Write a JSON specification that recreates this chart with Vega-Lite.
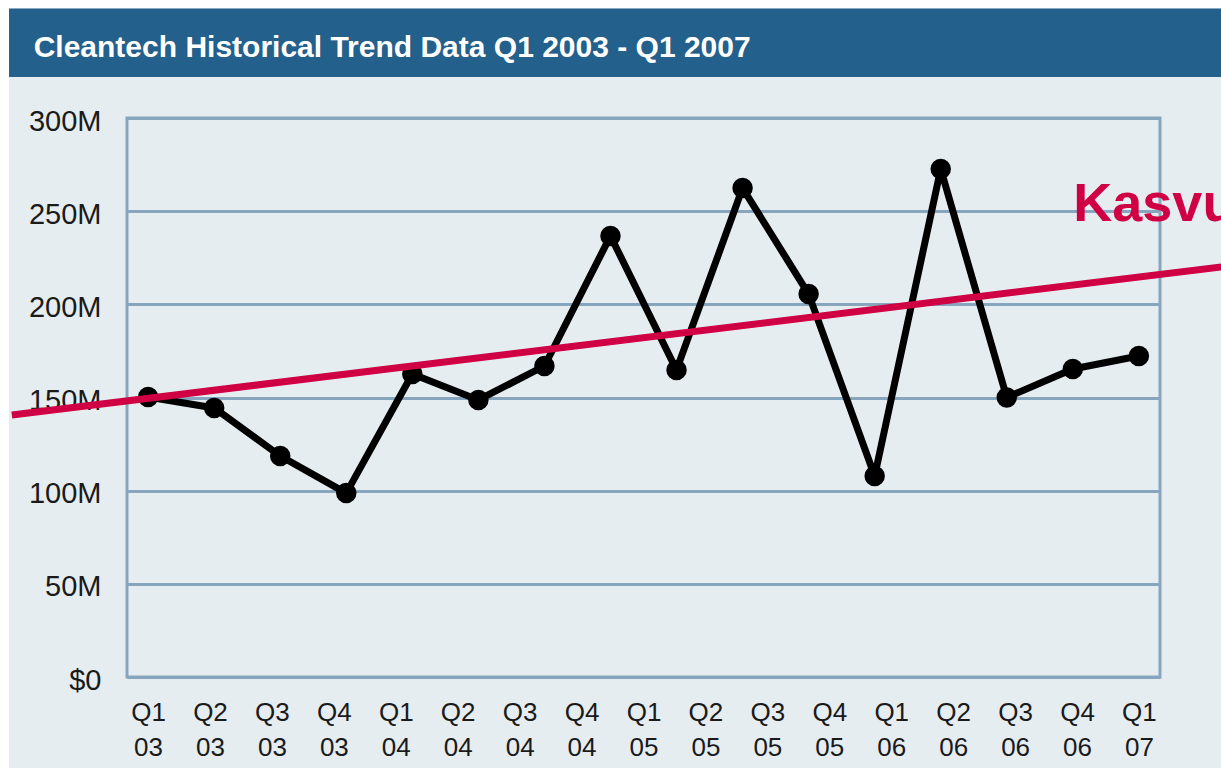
{
  "$schema": "https://vega.github.io/schema/vega-lite/v6.json",
  "width": 1033,
  "height": 559,
  "autosize": {"type": "none"},
  "padding": {"left": 127, "top": 118, "right": 61, "bottom": 91},
  "background": "#e6edf1",
  "config": {
    "view": {"stroke": "#87a6be", "strokeWidth": 3},
    "font": "Liberation Sans"
  },
  "resolve": {"scale": {"x": "independent"}},
  "layer": [
    {
      "data": {"values": [{}]},
      "mark": {"type": "rect", "color": "#ffffff"},
      "encoding": {
        "x": {"datum": -5, "type": "quantitative", "scale": {"domain": [-0.34, 16.34], "nice": false, "zero": false}, "axis": null},
        "x2": {"datum": 19},
        "y": {"datum": 358.8, "type": "quantitative", "scale": {"domain": [0, 300], "nice": false}},
        "y2": {"datum": 400}
      }
    },
    {
      "data": {"values": [{}]},
      "mark": {"type": "rect", "color": "#ffffff"},
      "encoding": {
        "x": {"datum": -5, "type": "quantitative", "scale": {"domain": [-0.34, 16.34], "nice": false, "zero": false}, "axis": null},
        "x2": {"datum": -2.245},
        "y": {"datum": -60, "type": "quantitative", "scale": {"domain": [0, 300], "nice": false}},
        "y2": {"datum": 400}
      }
    },
    {
      "data": {"values": [{}]},
      "mark": {"type": "rect", "color": "#23608b"},
      "encoding": {
        "x": {"datum": -2.245, "type": "quantitative", "scale": {"domain": [-0.34, 16.34], "nice": false, "zero": false}, "axis": null},
        "x2": {"datum": 19},
        "y": {"datum": 358.8, "type": "quantitative", "scale": {"domain": [0, 300], "nice": false}},
        "y2": {"datum": 322}
      }
    },
    {
      "data": {"values": [{"title": "Cleantech Historical Trend Data Q1 2003 - Q1 2007"}]},
      "mark": {"type": "text", "align": "left", "baseline": "alphabetic", "font": "Liberation Sans", "fontSize": 30, "fontWeight": "bold", "color": "#ffffff"},
      "encoding": {
        "text": {"field": "title"},
        "x": {"datum": -1.847, "type": "quantitative", "scale": {"domain": [-0.34, 16.34], "nice": false, "zero": false}, "axis": null},
        "y": {"datum": 332.7, "type": "quantitative", "scale": {"domain": [0, 300], "nice": false}}
      }
    },
    {
      "data": {"values": [
        {"q": "Q1 03"}, {"q": "Q2 03"}, {"q": "Q3 03"}, {"q": "Q4 03"},
        {"q": "Q1 04"}, {"q": "Q2 04"}, {"q": "Q3 04"}, {"q": "Q4 04"},
        {"q": "Q1 05"}, {"q": "Q2 05"}, {"q": "Q3 05"}, {"q": "Q4 05"},
        {"q": "Q1 06"}, {"q": "Q2 06"}, {"q": "Q3 06"}, {"q": "Q4 06"},
        {"q": "Q1 07"}
      ]},
      "mark": {"type": "point", "opacity": 0},
      "encoding": {
        "x": {
          "field": "q", "type": "ordinal", "sort": null,
          "scale": {"type": "point", "padding": 0.34},
          "axis": {
            "title": null, "domain": false, "ticks": false, "grid": false,
            "labelAngle": 0, "labelExpr": "split(datum.label, ' ')",
            "labelFont": "Liberation Sans", "labelFontSize": 26,
            "labelColor": "#1a1a1a", "labelPadding": 22, "labelLineHeight": 35,
            "labelOverlap": false, "labelBound": false, "labelBaseline": "top"
          }
        }
      }
    },
    {
      "data": {"values": [
        {"quarter": "Q1 03", "amount": 150.3},
        {"quarter": "Q2 03", "amount": 144.4},
        {"quarter": "Q3 03", "amount": 118.6},
        {"quarter": "Q4 03", "amount": 98.7},
        {"quarter": "Q1 04", "amount": 162.6},
        {"quarter": "Q2 04", "amount": 148.7},
        {"quarter": "Q3 04", "amount": 166.9},
        {"quarter": "Q4 04", "amount": 236.7},
        {"quarter": "Q1 05", "amount": 164.8},
        {"quarter": "Q2 05", "amount": 262.4},
        {"quarter": "Q3 05", "amount": 205.5},
        {"quarter": "Q4 05", "amount": 107.9},
        {"quarter": "Q1 06", "amount": 272.6},
        {"quarter": "Q2 06", "amount": 150.0},
        {"quarter": "Q3 06", "amount": 165.3},
        {"quarter": "Q4 06", "amount": 172.3}
      ]},
      "mark": {"type": "line", "color": "#000000", "strokeWidth": 7, "strokeJoin": "round", "point": {"filled": true, "size": 420, "color": "#000000", "opacity": 1}},
      "encoding": {
        "x": {"field": "quarter", "type": "ordinal", "sort": null, "scale": {"type": "point", "padding": 0.32}, "axis": null},
        "y": {
          "field": "amount", "type": "quantitative",
          "scale": {"domain": [0, 300], "nice": false},
          "axis": {
            "title": null, "values": [0, 50, 100, 150, 200, 250, 300],
            "labelExpr": "datum.value == 0 ? '$0' : datum.value + 'M'",
            "domain": false, "ticks": false,
            "grid": true, "gridColor": "#87a6be", "gridWidth": 3, "gridOpacity": 1,
            "labelFont": "Liberation Sans", "labelFontSize": 29, "labelColor": "#1a1a1a",
            "labelPadding": 26, "labelOffset": 3, "labelBound": false
          }
        }
      }
    },
    {
      "data": {"values": [{"t": -2.2, "trend": 140.6}, {"t": 18, "trend": 222.8}]},
      "mark": {"type": "line", "color": "#cf0044", "strokeWidth": 7},
      "encoding": {
        "x": {"field": "t", "type": "quantitative", "scale": {"domain": [-0.34, 16.34], "nice": false, "zero": false}, "axis": null},
        "y": {"field": "trend", "type": "quantitative", "scale": {"domain": [0, 300], "nice": false}}
      }
    },
    {
      "data": {"values": [{"label": "Kasvu"}]},
      "mark": {"type": "text", "align": "left", "baseline": "alphabetic", "font": "Liberation Sans", "fontSize": 54, "fontWeight": "bold", "color": "#cf0044"},
      "encoding": {
        "text": {"field": "label"},
        "x": {"datum": 14.94, "type": "quantitative", "scale": {"domain": [-0.34, 16.34], "nice": false, "zero": false}, "axis": null},
        "y": {"datum": 244.7, "type": "quantitative", "scale": {"domain": [0, 300], "nice": false}}
      }
    }
  ]
}
